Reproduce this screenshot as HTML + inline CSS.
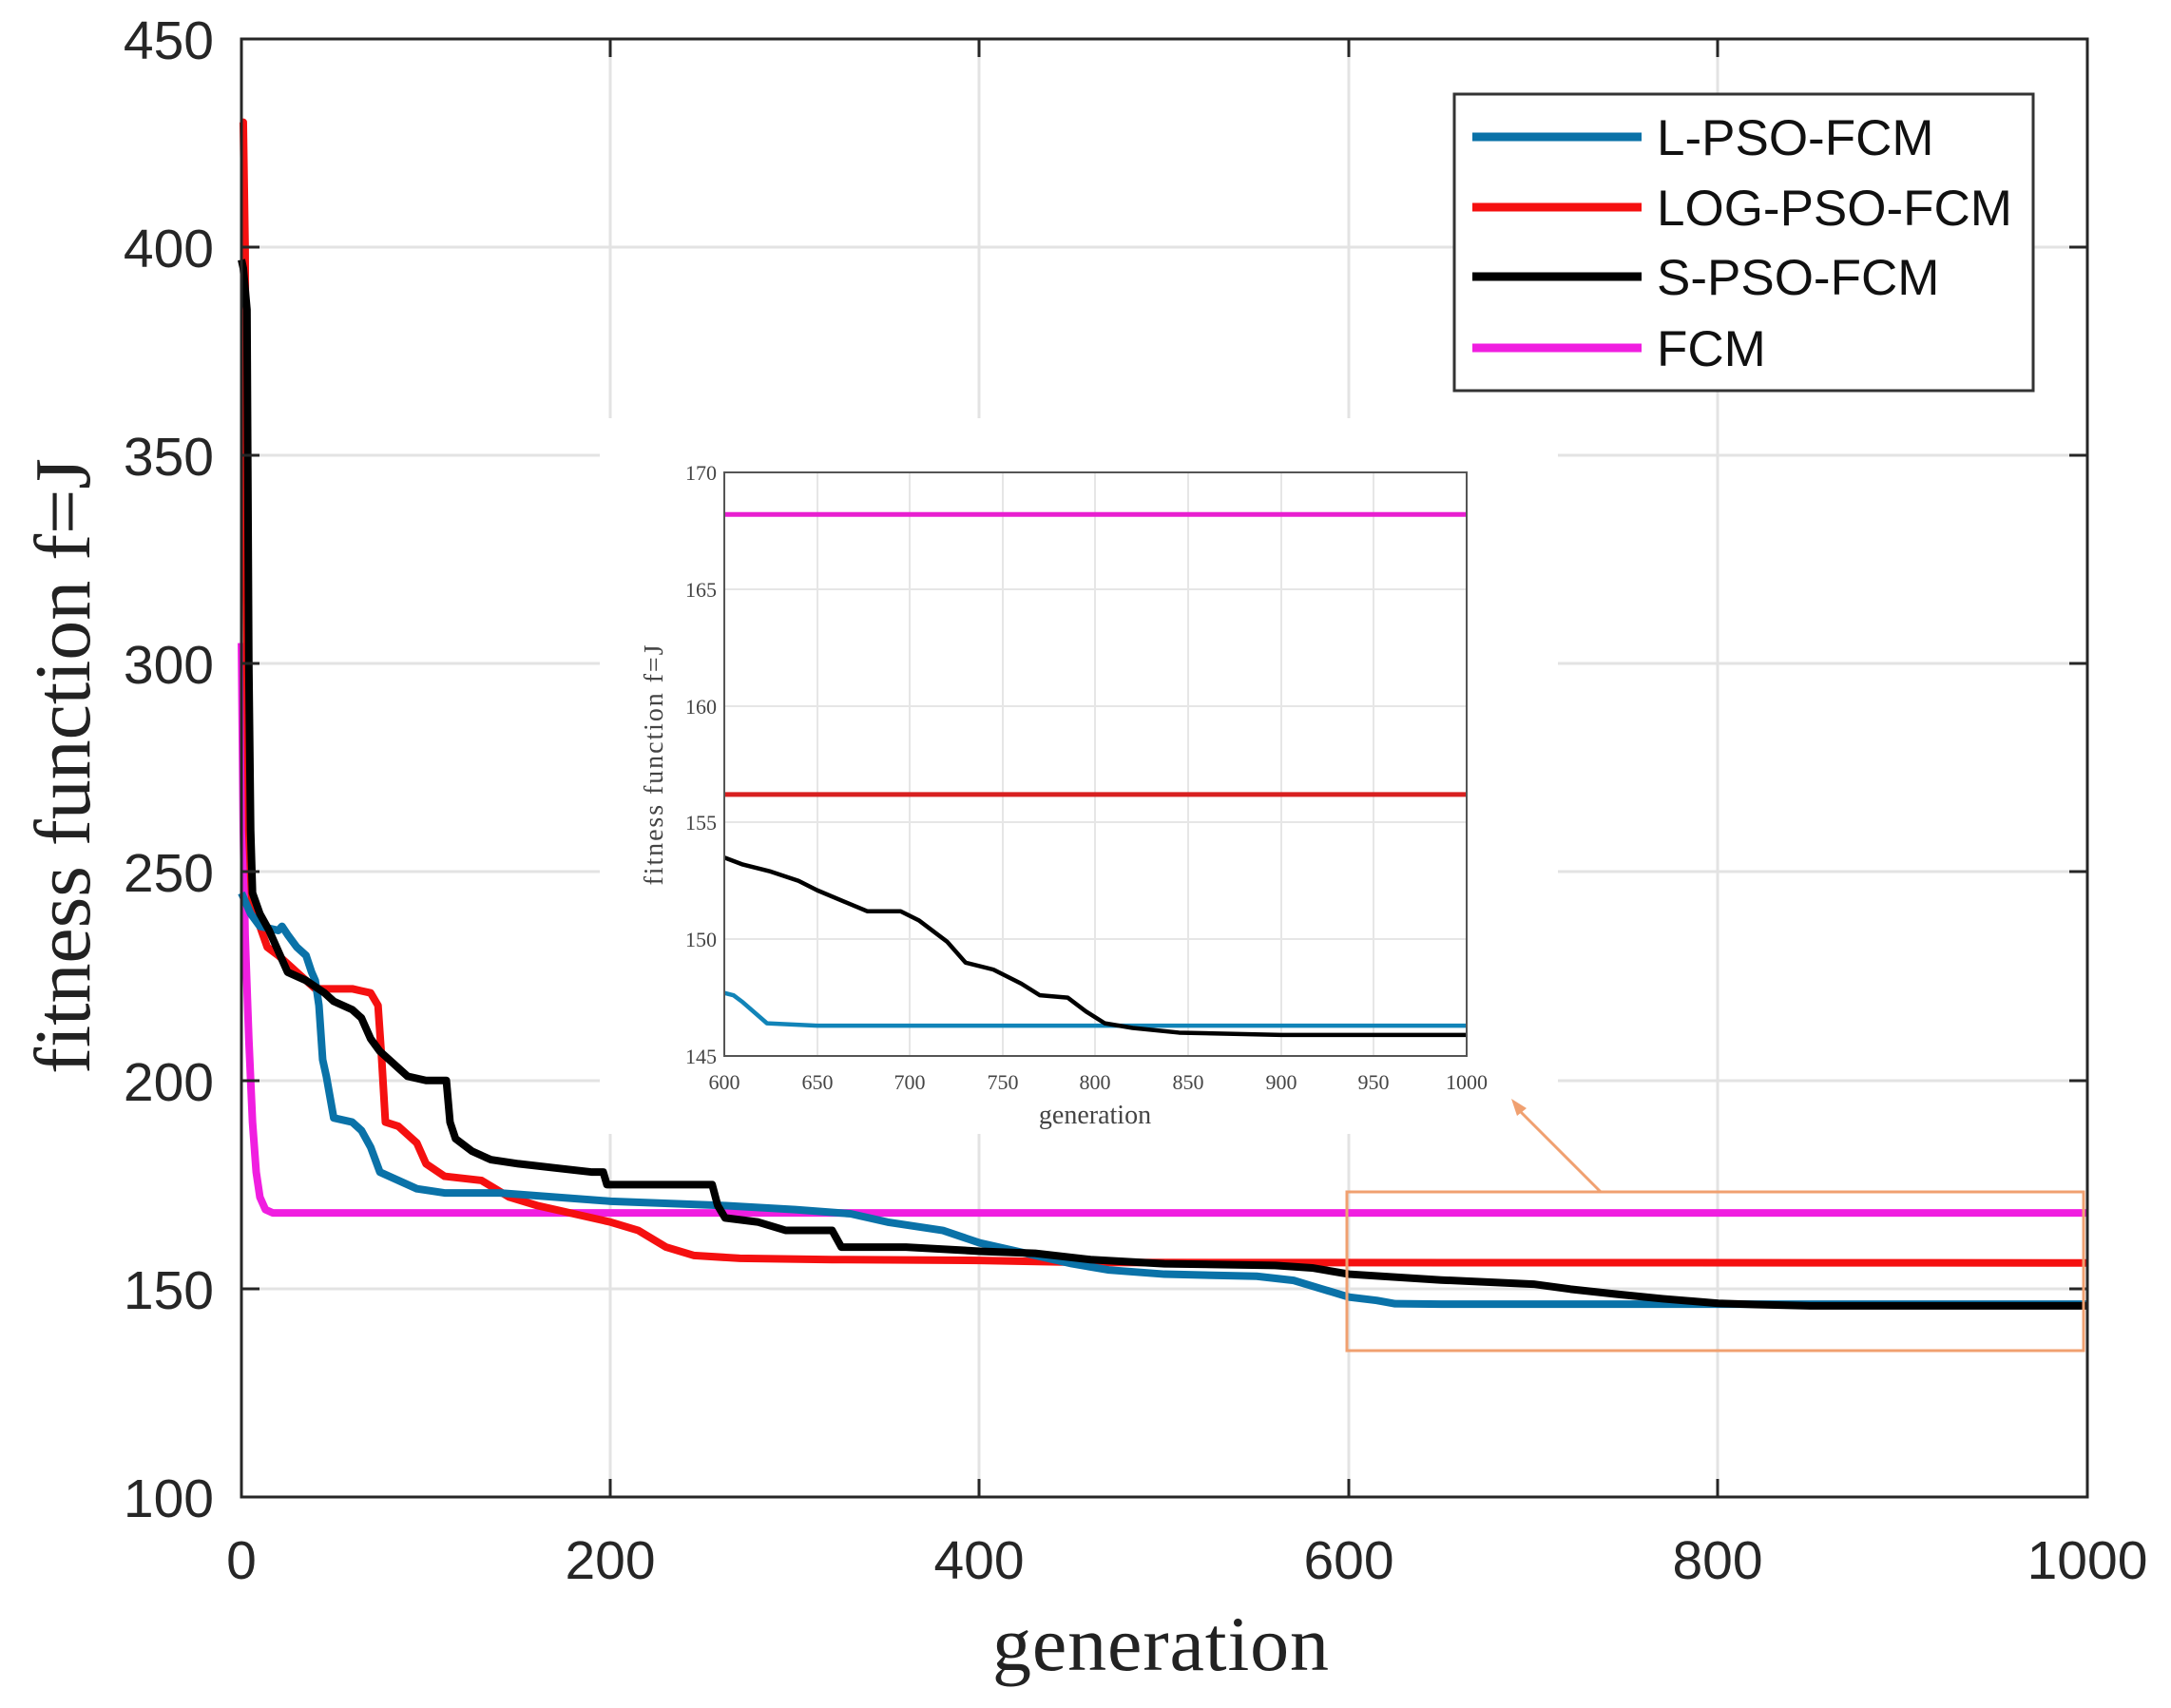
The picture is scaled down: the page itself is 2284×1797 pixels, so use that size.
<!DOCTYPE html>
<html><head><meta charset="utf-8"><style>html,body{margin:0;padding:0;background:#fff}svg{display:block}</style></head>
<body>
<svg width="2284" height="1797" viewBox="0 0 2284 1797" xmlns="http://www.w3.org/2000/svg" font-family="Liberation Sans, sans-serif">
<rect width="2284" height="1797" fill="#fff"/>
<g stroke="#e3e3e3" stroke-width="3">
<line x1="642" y1="41" x2="642" y2="1575"/><line x1="1030" y1="41" x2="1030" y2="1575"/>
<line x1="1419" y1="41" x2="1419" y2="1575"/><line x1="1807" y1="41" x2="1807" y2="1575"/>
<line x1="254" y1="260" x2="2196" y2="260"/><line x1="254" y1="479" x2="2196" y2="479"/>
<line x1="254" y1="698" x2="2196" y2="698"/><line x1="254" y1="917" x2="2196" y2="917"/>
<line x1="254" y1="1137" x2="2196" y2="1137"/><line x1="254" y1="1356" x2="2196" y2="1356"/>
</g>
<rect x="631" y="440" width="1008" height="753" fill="#fff"/>
<g fill="none" stroke-width="8" stroke-linejoin="round" transform="matrix(1.942,0,0,-4.383,254,2013.35)">
<polyline vector-effect="non-scaling-stroke" stroke="#f01ee0" points="0,305 1,260 2,235 4,210 6,190 8,178 10,172 13,169 17,168.2 1000,168.2"/>
<polyline vector-effect="non-scaling-stroke" stroke="#f51010" points="0,430 1,430 2,400 3,300 4,260 6,240 10,237 14,232 20,230 30,226 40,222 60,222 70,221 74,218 76,205 78,190 85,189 95,185 100,180 110,177 130,176 145,172 160,170 180,168 200,166 215,164 230,160 245,158 270,157.3 320,157 400,156.8 460,156.3 1000,156.2"/>
<polyline vector-effect="non-scaling-stroke" stroke="#0a72a8" points="0,245 5,240 10,237 20,236 22,237 25,235 30,232 35,230 38,226 40,224 42,218 44,205 46,201 50,191 60,190 65,188 70,184 75,178 85,176 95,174 110,173 140,173 200,171 260,170 300,169 330,168 350,166 380,164 400,161 420,159 450,156 470,154.5 500,153.5 550,153 570,152 585,150 600,148 615,147.2 625,146.4 650,146.3 1000,146.3"/>
<polyline vector-effect="non-scaling-stroke" stroke="#000" points="0,397 1,395 3,385 4,300 5,260 6,245 10,240 15,236 20,231 25,226 35,224 45,221 50,219 60,217 65,215 70,210 75,207 80,205 85,203 90,201 100,200 111,200 113,190 116,186 125,183 135,181 150,180 170,179 190,178 196,178 198,175 255,175 258,170 262,167 280,166 295,164 320,164 325,160 360,160 400,159 430,158.5 460,157 500,156 560,155.6 580,155 600,153.5 650,152.1 700,151.1 720,149.9 745,148.7 770,147.6 800,146.5 820,146.2 850,145.9 1000,145.9"/>
</g>
<rect x="254" y="41" width="1942" height="1534" fill="none" stroke="#262626" stroke-width="3"/>
<g stroke="#262626" stroke-width="3">
<line x1="642" y1="1575" x2="642" y2="1556"/><line x1="1030" y1="1575" x2="1030" y2="1556"/><line x1="1419" y1="1575" x2="1419" y2="1556"/><line x1="1807" y1="1575" x2="1807" y2="1556"/>
<line x1="642" y1="41" x2="642" y2="60"/><line x1="1030" y1="41" x2="1030" y2="60"/><line x1="1419" y1="41" x2="1419" y2="60"/><line x1="1807" y1="41" x2="1807" y2="60"/>
<line x1="254" y1="260" x2="273" y2="260"/><line x1="254" y1="479" x2="273" y2="479"/><line x1="254" y1="698" x2="273" y2="698"/><line x1="254" y1="917" x2="273" y2="917"/><line x1="254" y1="1137" x2="273" y2="1137"/><line x1="254" y1="1356" x2="273" y2="1356"/>
<line x1="2196" y1="260" x2="2177" y2="260"/><line x1="2196" y1="479" x2="2177" y2="479"/><line x1="2196" y1="698" x2="2177" y2="698"/><line x1="2196" y1="917" x2="2177" y2="917"/><line x1="2196" y1="1137" x2="2177" y2="1137"/><line x1="2196" y1="1356" x2="2177" y2="1356"/>
</g>
<g font-size="57" fill="#262626" text-anchor="end">
<text x="225" y="62">450</text><text x="225" y="281">400</text><text x="225" y="500">350</text><text x="225" y="719">300</text>
<text x="225" y="938">250</text><text x="225" y="1158">200</text><text x="225" y="1377">150</text><text x="225" y="1596">100</text>
</g>
<g font-size="57" fill="#262626" text-anchor="middle">
<text x="254" y="1661">0</text><text x="642" y="1661">200</text><text x="1030" y="1661">400</text><text x="1419" y="1661">600</text><text x="1807" y="1661">800</text><text x="2196" y="1661">1000</text>
</g>
<text x="1221" y="1757" font-family="Liberation Serif, serif" font-size="82" text-anchor="middle" fill="#222" textLength="354">generation</text>
<text transform="translate(94,806) rotate(-90)" font-family="Liberation Serif, serif" font-size="84" text-anchor="middle" fill="#222" textLength="648">fitness function f=J</text>
<rect x="1530" y="99" width="609" height="312" fill="#fff" stroke="#333" stroke-width="3"/>
<g stroke-width="9">
<line x1="1549" y1="144" x2="1727" y2="144" stroke="#0a72a8"/>
<line x1="1549" y1="218" x2="1727" y2="218" stroke="#f51010"/>
<line x1="1549" y1="291" x2="1727" y2="291" stroke="#000"/>
<line x1="1549" y1="366" x2="1727" y2="366" stroke="#f01ee0"/>
</g>
<g font-size="53" fill="#111">
<text x="1743" y="163">L-PSO-FCM</text><text x="1743" y="237">LOG-PSO-FCM</text><text x="1743" y="310">S-PSO-FCM</text><text x="1743" y="385">FCM</text>
</g>
<rect x="1417" y="1254" width="775" height="167" fill="none" stroke="#f0a070" stroke-width="3"/>
<line x1="1684" y1="1254" x2="1598" y2="1168" stroke="#f0a070" stroke-width="3"/>
<polygon points="1590,1156 1606,1166 1596,1174" fill="#f0a070"/>
<g stroke="#e6e6e6" stroke-width="2">
<line x1="860" y1="497" x2="860" y2="1111"/><line x1="957" y1="497" x2="957" y2="1111"/><line x1="1055" y1="497" x2="1055" y2="1111"/><line x1="1152" y1="497" x2="1152" y2="1111"/><line x1="1250" y1="497" x2="1250" y2="1111"/><line x1="1348" y1="497" x2="1348" y2="1111"/><line x1="1445" y1="497" x2="1445" y2="1111"/>
<line x1="762" y1="620" x2="1543" y2="620"/><line x1="762" y1="743" x2="1543" y2="743"/><line x1="762" y1="865" x2="1543" y2="865"/><line x1="762" y1="988" x2="1543" y2="988"/>
</g>
<g fill="none" stroke-linejoin="round" transform="matrix(1.9525,0,0,-24.56,-409.5,4672.2)">
<polyline vector-effect="non-scaling-stroke" stroke="#e81fd0" stroke-width="5" points="600,168.2 1000,168.2"/>
<polyline vector-effect="non-scaling-stroke" stroke="#d82020" stroke-width="5" points="600,156.2 1000,156.2"/>
<polyline vector-effect="non-scaling-stroke" stroke="#1184b8" stroke-width="4.5" points="600,147.7 605,147.6 610,147.3 623,146.4 650,146.3 1000,146.3"/>
<polyline vector-effect="non-scaling-stroke" stroke="#000" stroke-width="4.5" points="600,153.5 610,153.2 625,152.9 640,152.5 650,152.1 665,151.6 677,151.2 695,151.2 705,150.8 720,149.9 730,149.0 745,148.7 760,148.1 770,147.6 785,147.5 795,146.9 805,146.4 820,146.2 845,146.0 900,145.9 1000,145.9"/>
</g>
<rect x="762" y="497" width="781" height="614" fill="none" stroke="#555" stroke-width="2"/>
<g font-family="Liberation Serif, serif" font-size="22" fill="#444" text-anchor="end">
<text x="754" y="505">170</text><text x="754" y="628">165</text><text x="754" y="751">160</text><text x="754" y="873">155</text><text x="754" y="996">150</text><text x="754" y="1119">145</text>
</g>
<g font-family="Liberation Serif, serif" font-size="22" fill="#444" text-anchor="middle">
<text x="762" y="1146">600</text><text x="860" y="1146">650</text><text x="957" y="1146">700</text><text x="1055" y="1146">750</text><text x="1152" y="1146">800</text><text x="1250" y="1146">850</text><text x="1348" y="1146">900</text><text x="1445" y="1146">950</text><text x="1543" y="1146">1000</text>
</g>
<text x="1152" y="1182" font-family="Liberation Serif, serif" font-size="28" text-anchor="middle" fill="#444">generation</text>
<text transform="translate(697,805) rotate(-90)" font-family="Liberation Serif, serif" font-size="28" text-anchor="middle" fill="#444" textLength="253">fitness function f=J</text>
</svg>
</body></html>
